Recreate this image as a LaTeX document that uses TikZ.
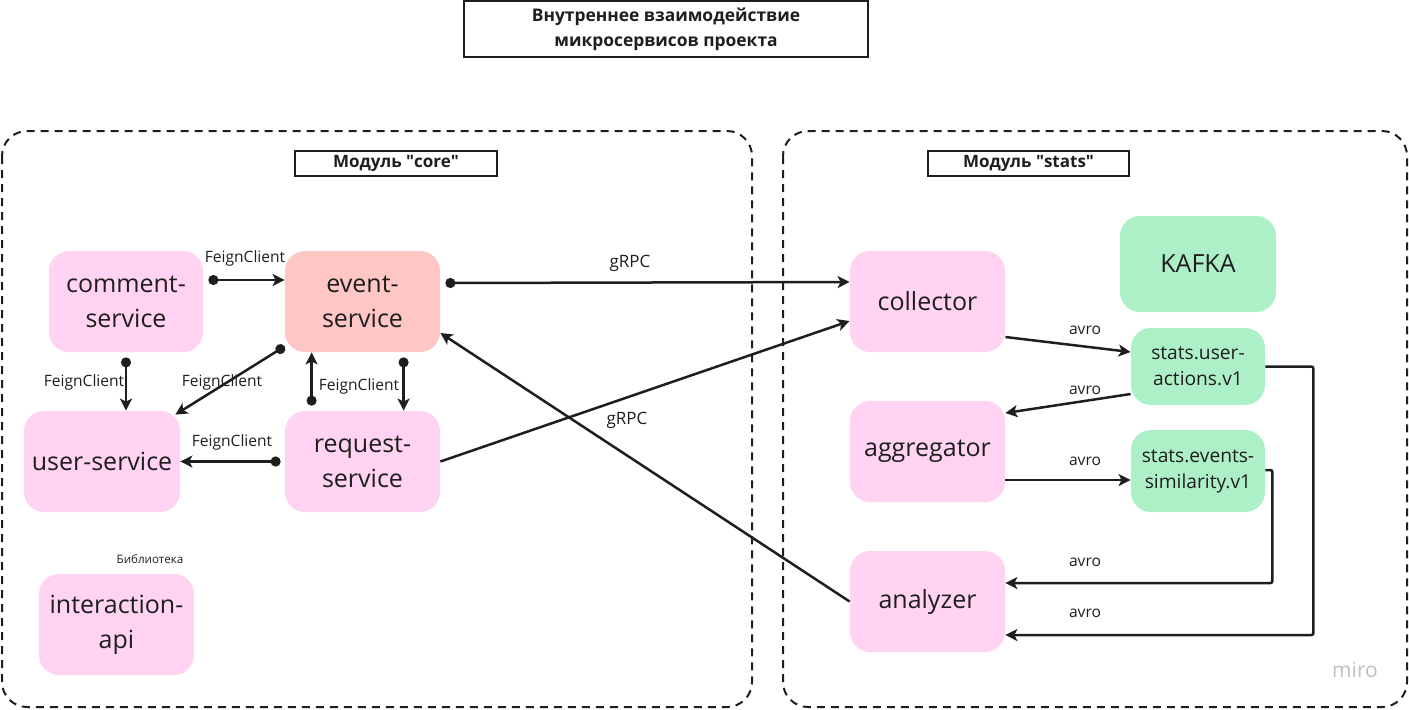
\documentclass[tikz,border=0pt]{standalone}
\usepackage{fontspec}
\setmainfont{Open Sans}
\usetikzlibrary{arrows.meta,calc}
\definecolor{pinkc}{HTML}{FFD3F1}
\definecolor{redc}{HTML}{FFC6C6}
\definecolor{greenc}{HTML}{ADF0C7}
\definecolor{inkc}{HTML}{1E1E1E}
\begin{document}
\begin{tikzpicture}[x=0.5pt,y=-0.5pt,
  svc/.style={fill=pinkc, rounded corners=10pt, minimum width=77.5pt, minimum height=50.5pt, align=center, font=\fontsize{12.5}{17.5}\selectfont, text=inkc, inner sep=0pt},
  topic/.style={fill=greenc, rounded corners=10pt, minimum width=67pt, align=center, font=\fontsize{9.6}{13}\selectfont, text=inkc, inner sep=0pt},
  lbl/.style={font=\fontsize{7.8}{9}\selectfont, text=inkc, inner sep=0pt},
  albl/.style={font=\fontsize{7.8}{9}\selectfont, text=inkc, inner sep=0pt},
  hdr/.style={draw=inkc, line width=0.9pt, font=\bfseries\fontsize{8.5}{10}\selectfont, text=inkc, inner sep=0pt},
  cont/.style={draw=inkc, line width=1pt, dash pattern=on 4pt off 3pt, rounded corners=12.5pt},
  conn/.style={draw=inkc, line width=1.25pt, -{Stealth[length=6pt,width=6pt,inset=1.5pt]}},
  fc/.style={draw=inkc, line width=1.25pt, {Circle[length=5pt]}-{Stealth[length=6pt,width=6pt,inset=1.5pt]}}
]
\useasboundingbox (0,0) rectangle (1409,709);

% title
\node[hdr, minimum width=202pt, minimum height=28pt, align=center, font=\bfseries\fontsize{8.7}{12.5}\selectfont] (title) at (666,29) {Внутреннее взаимодействие\\микросервисов проекта};

% containers
\draw[cont] (2,131) rectangle (752,707);
\draw[cont] (783,131) rectangle (1407,707);
\node[hdr, minimum width=101pt, minimum height=12.5pt] (core) at (396,163.5) {Модуль \textquotedbl core\textquotedbl};
\node[hdr, minimum width=100.5pt, minimum height=12.5pt] (stats) at (1028.5,163.5) {Модуль \textquotedbl stats\textquotedbl};

% core services
\node[svc, minimum width=77pt] (comment) at (126,301.5) {comment-\\service};
\node[svc, fill=redc] (event) at (362.5,301.5) {event-\\service};
\node[svc, minimum width=78pt] (user) at (102,461.5) {user-service};
\node[svc] (request) at (362.5,461.5) {request-\\service};
\node[svc] (inter) at (116.5,624.5) {interaction-\\api};
\node[font=\fontsize{5.8}{7}\selectfont, text=inkc, inner sep=0pt] (lib) at (150,559) {Библиотека};

% stats services
\node[svc] (coll) at (927.5,301.5) {collector};
\node[svc] (agg) at (927.5,451.5) {aggregator};
\node[svc] (an) at (927.5,601.5) {analyzer};
\node[topic, minimum width=78pt, minimum height=48pt, font=\fontsize{12.5}{14}\selectfont] (kafka) at (1198,264) {KAFKA};
\node[topic, minimum height=38.5pt] (ua) at (1198,366.5) {stats.user-\\actions.v1};
\node[topic, minimum height=41pt] (sim) at (1198,471) {stats.events-\\similarity.v1};

% FeignClient connectors
\draw[fc] ($(comment.east)+(5,-21.5)$) -- ($(event.west)+(0,-21.5)$);
\draw[fc] ($(comment.south)+(0,5)$) -- (comment.south |- user.north);
\draw[fc] ($(event.south west)+(0,-6)$) -- ($(user.north east)+(-5,4)$);
\draw[fc] ($(request.north west)+(27,-5)$) -- ($(event.south west)+(27,0)$);
\draw[fc] ($(event.south west)+(119,5)$) -- ($(request.north west)+(119,0)$);
\draw[fc] ($(request.west)+(-4,0)$) -- (user.east);
\node[lbl] (l1) at (245,258) {FeignClient};
\node[lbl] (l2) at (84,382) {FeignClient};
\node[lbl] (l3) at (222,382) {FeignClient};
\node[lbl] (l4) at (359,386) {FeignClient};
\node[lbl] (l5) at (232,442) {FeignClient};

% gRPC
\draw[fc] ($(event.east)+(5,-18.5)$) -- ($(coll.west)+(0,-19.5)$);
\draw[conn] (request.east) -- ($(coll.west)+(0,19.5)$);
\draw[conn] (an.west) -- ($(event.east)+(0,31.5)$);
\node[lbl, font=\fontsize{8.5}{10}\selectfont] (g1) at (630,263) {gRPC};
\node[lbl, font=\fontsize{8.5}{10}\selectfont] (g2) at (627,420) {gRPC};

% avro
\draw[conn] ($(coll.east)+(0,35.5)$) -- ($(ua.west)+(0,-14.5)$);
\draw[conn] ($(ua.west)+(0,27.5)$) -- ($(agg.east)+(0,-38.5)$);
\draw[conn] ($(agg.east)+(0,28.5)$) -- ($(sim.west)+(0,9)$);
\draw[conn, rounded corners=1pt] ($(sim.east)+(0,-1)$) -- ++(7,0) |- ($(an.east)+(0,-18.5)$);
\draw[conn, rounded corners=1pt] (ua.east) -- ++(48,0) |- ($(an.east)+(0,33.5)$);
\node[albl] (a1) at (1085,330) {avro};
\node[albl] (a2) at (1085,390) {avro};
\node[albl] (a3) at (1085,461) {avro};
\node[albl] (a4) at (1085,562) {avro};
\node[albl] (a5) at (1085,613) {avro};

\node[font=\fontsize{10.5}{12}\selectfont, text=black!25, inner sep=0pt] (miro) at (1355,670) {miro};
\end{tikzpicture}
\end{document}
